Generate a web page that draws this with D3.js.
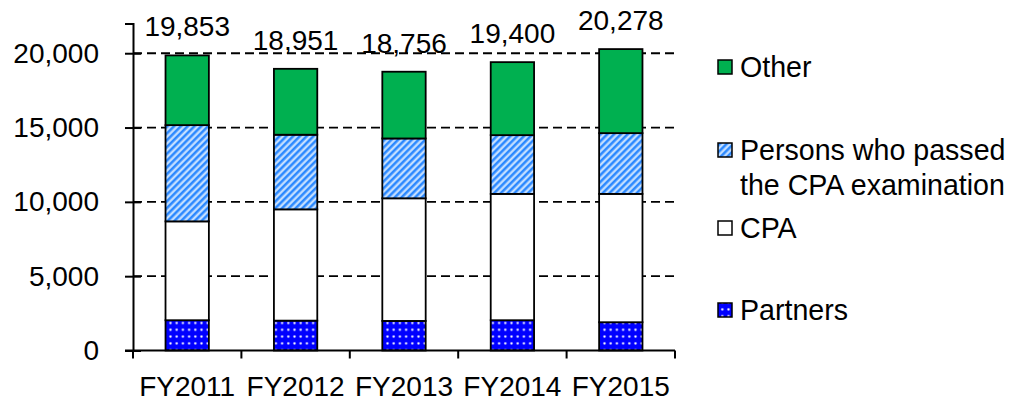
<!DOCTYPE html>
<html>
<head>
<meta charset="utf-8">
<script src="https://cdn.jsdelivr.net/npm/d3@7"></script>
<style>
  html, body { margin: 0; padding: 0; background: #fff; }
  svg { display: block; font-family: Arial, "Liberation Sans", sans-serif; }
</style>
</head>
<body>
<svg id="chart" width="1019" height="401"></svg>
<script>
// categories + stacked series (bottom to top)
const years = ["FY2011", "FY2012", "FY2013", "FY2014", "FY2015"];
const partners = [2037, 2010, 1990, 2037, 1902];
const cpa = [6651, 7487, 8250, 8499, 8634];
const passed = [6475, 5019, 4026, 3953, 4088];
const other = [4690, 4435, 4490, 4911, 5654];
const totals = [19853, 18951, 18756, 19400, 20278];
const yTicks = [0, 5000, 10000, 15000, 20000];

const seriesNames = ["Partners", "CPA", "Persons who passed the CPA examination", "Other"];

const W = 1019, H = 401;
const margin = { top: 23.5, right: 344, bottom: 50.5, left: 133 };
const FONT = 28;
const LEGEND_FONT = 28.6;

const svg = d3.select("#chart");
const defs = svg.append("defs");

// dotted blue (partners)
const dots = defs.append("pattern")
  .attr("id", "pat-dots")
  .attr("patternUnits", "userSpaceOnUse")
  .attr("width", 6.2).attr("height", 6.8);
dots.append("rect").attr("width", 6.2).attr("height", 6.8).attr("fill", "#0000ff");
dots.append("circle").attr("cx", 3.1).attr("cy", 3.4).attr("r", 1.4).attr("fill", "#8c8cff");
dots.append("circle").attr("cx", 3.1).attr("cy", 3.4).attr("r", 0.8).attr("fill", "#ffffff");

// diagonal stripes (passed exam)
const stripes = defs.append("pattern")
  .attr("id", "pat-stripes")
  .attr("patternUnits", "userSpaceOnUse")
  .attr("width", 4.8).attr("height", 10)
  .attr("patternTransform", "rotate(45)");
stripes.append("rect").attr("width", 4.8).attr("height", 10).attr("fill", "#ffffff");
stripes.append("rect").attr("x", 0).attr("width", 2.6).attr("height", 10).attr("fill", "#2a88ff");
stripes.append("rect").attr("x", 2.6).attr("width", 0.7).attr("height", 10).attr("fill", "#92c4ff");
stripes.append("rect").attr("x", 4.1).attr("width", 0.7).attr("height", 10).attr("fill", "#92c4ff");

const fills = ["url(#pat-dots)", "#ffffff", "url(#pat-stripes)", "#00b050"];

const x = d3.scaleBand()
  .domain(years)
  .range([margin.left, W - margin.right]);

const y = d3.scaleLinear()
  .domain([0, 22000])
  .range([H - margin.bottom, margin.top]);

const barW = x.bandwidth() * 0.4;

// gridlines
svg.append("g")
  .selectAll("line")
  .data(yTicks.filter(d => d > 0))
  .join("line")
  .attr("x1", margin.left).attr("x2", W - margin.right)
  .attr("y1", d => y(d)).attr("y2", d => y(d))
  .attr("stroke", "#000")
  .attr("stroke-width", 1.8)
  .attr("stroke-dasharray", "9 5");

// stacked bars
const rows = years.map((yr, i) => ({
  year: yr, Partners: partners[i], CPA: cpa[i],
  "Persons who passed the CPA examination": passed[i], Other: other[i]
}));
const stacked = d3.stack().keys(seriesNames)(rows);

svg.append("g")
  .selectAll("g")
  .data(stacked)
  .join("g")
  .attr("fill", (d, i) => fills[i])
  .selectAll("rect")
  .data(d => d)
  .join("rect")
  .attr("x", d => x(d.data.year) + (x.bandwidth() - barW) / 2)
  .attr("width", barW)
  .attr("y", d => y(d[1]))
  .attr("height", d => y(d[0]) - y(d[1]))
  .attr("stroke", "#000")
  .attr("stroke-width", 1.8);

// totals
svg.append("g")
  .selectAll("text")
  .data(totals)
  .join("text")
  .attr("x", (d, i) => x(years[i]) + x.bandwidth() / 2)
  .attr("y", d => y(d) - 19)
  .attr("text-anchor", "middle")
  .attr("font-size", FONT)
  .attr("fill", "#000")
  .text(d => d3.format(",")(d));

// y axis
const yAxis = svg.append("g")
  .attr("transform", `translate(${margin.left},0)`)
  .call(d3.axisLeft(y).tickValues(yTicks).tickSize(8).tickPadding(26).tickFormat(d3.format(",")));
yAxis.select(".domain").attr("stroke-width", 2);
yAxis.selectAll(".tick line").attr("x1", 8).attr("stroke-width", 2);
yAxis.selectAll(".tick text").attr("font-size", FONT).attr("fill", "#000")
  .attr("font-family", "Arial, 'Liberation Sans', sans-serif");

// x axis line + boundary ticks
const x0 = y(0);
const bounds = years.map(d => x(d)).concat([x.range()[1]]);
svg.append("line")
  .attr("x1", margin.left - 8).attr("x2", x.range()[1])
  .attr("y1", x0).attr("y2", x0)
  .attr("stroke", "#000").attr("stroke-width", 2);
svg.append("g")
  .selectAll("line")
  .data(bounds)
  .join("line")
  .attr("x1", d => d).attr("x2", d => d)
  .attr("y1", x0).attr("y2", x0 + 8)
  .attr("stroke", "#000").attr("stroke-width", 2);
svg.append("g")
  .selectAll("text")
  .data(years)
  .join("text")
  .attr("x", d => x(d) + x.bandwidth() / 2)
  .attr("y", x0 + 45)
  .attr("text-anchor", "middle")
  .attr("font-size", FONT)
  .attr("fill", "#000")
  .text(d => d);

// legend (top to bottom as in the picture)
const legendItems = [
  { lines: ["Other"], fill: fills[3], cy: 67 },
  { lines: ["Persons who passed", "the CPA examination"], fill: fills[2], cy: 150 },
  { lines: ["CPA"], fill: fills[1], cy: 228 },
  { lines: ["Partners"], fill: fills[0], cy: 310 }
];
const lg = svg.append("g").selectAll("g").data(legendItems).join("g");
lg.append("rect")
  .attr("x", 718).attr("y", d => d.cy - 7)
  .attr("width", 14).attr("height", 14)
  .attr("fill", d => d.fill)
  .attr("stroke", "#000").attr("stroke-width", 1.5);
lg.append("text")
  .attr("x", 740)
  .attr("y", d => d.cy + 10)
  .attr("font-size", LEGEND_FONT)
  .attr("fill", "#000")
  .selectAll("tspan")
  .data(d => d.lines)
  .join("tspan")
  .attr("x", 740)
  .attr("dy", (d, i) => i === 0 ? 0 : 35)
  .text(d => d);
</script>
</body>
</html>
